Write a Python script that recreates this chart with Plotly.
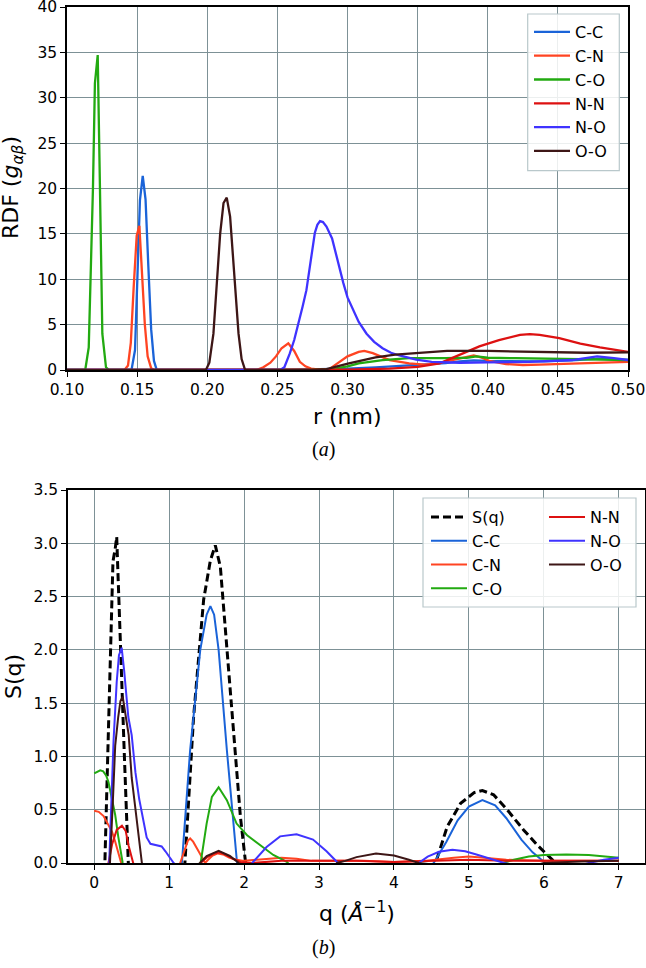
import plotly.graph_objects as go

# ---- panel (a): radial distribution functions ----
r_cc = [0.10, 0.146, 0.1485, 0.150, 0.152, 0.154, 0.156, 0.158, 0.160, 0.162, 0.164, 0.25, 0.28, 0.30, 0.32,
        0.34, 0.36, 0.37, 0.38, 0.39, 0.40, 0.42, 0.44, 0.46, 0.48, 0.50]
g_cc = [0, 0, 2.2, 10.5, 18.7, 21.4, 18.8, 11.4, 4.5, 1.0, 0, 0, 0.05, 0.15, 0.3,
        0.45, 0.65, 0.75, 0.95, 1.05, 1.0, 0.95, 0.95, 1.05, 1.25, 1.1]

r_cn = [0.10, 0.141, 0.1435, 0.1455, 0.1475, 0.1497, 0.1516, 0.1535, 0.1555, 0.1575, 0.160, 0.162,
        0.235, 0.240, 0.245, 0.249, 0.253, 0.2578, 0.262, 0.266, 0.270, 0.274, 0.280, 0.287, 0.294,
        0.300, 0.308, 0.312, 0.318, 0.325, 0.330, 0.344, 0.355, 0.365, 0.375, 0.385, 0.390, 0.395,
        0.401, 0.413, 0.425, 0.437, 0.450, 0.461, 0.480, 0.500]
g_cn = [0, 0, 0.5, 3, 9, 14.8, 15.9, 11, 5, 1.5, 0.2, 0,
        0, 0.3, 0.8, 1.5, 2.4, 2.94, 2.1, 0.9, 0.4, 0.15, 0.05, 0.1, 0.9,
        1.5, 2.0, 2.1, 1.85, 1.4, 1.1, 0.74, 0.6, 0.75, 1.1, 1.5, 1.6, 1.4,
        1.0, 0.66, 0.55, 0.6, 0.65, 0.73, 0.82, 0.9]

r_co = [0.10, 0.113, 0.1155, 0.1185, 0.1199, 0.1219, 0.1235, 0.1252, 0.1278, 0.130,
        0.270, 0.289, 0.300, 0.308, 0.325, 0.344, 0.370, 0.385, 0.392, 0.400, 0.420, 0.450, 0.480, 0.500]
g_co = [0, 0, 2.5, 20, 31.6, 34.7, 20, 4, 0.3, 0,
        0, 0.1, 0.4, 0.74, 1.1, 1.3, 1.3, 1.35, 1.5, 1.35, 1.3, 1.25, 1.2, 1.1]

r_nn = [0.10, 0.28, 0.30, 0.33, 0.35, 0.3657, 0.380, 0.394, 0.408, 0.423, 0.430, 0.437, 0.451,
        0.466, 0.480, 0.500]
g_nn = [0, 0, 0.05, 0.15, 0.35, 0.74, 1.65, 2.6, 3.3, 3.86, 3.95, 3.86, 3.5,
        2.9, 2.5, 2.0]

r_no = [0.10, 0.252, 0.255, 0.2588, 0.262, 0.265, 0.268, 0.2707, 0.274, 0.2767, 0.2785, 0.2804,
        0.2825, 0.285, 0.289, 0.293, 0.297, 0.300, 0.304, 0.308, 0.3136, 0.319, 0.325, 0.331, 0.337,
        0.349, 0.360, 0.380, 0.400, 0.430, 0.460, 0.478, 0.490, 0.500]
g_no = [0, 0, 0.3, 1.8, 3.3, 5, 7, 8.8, 12.2, 15.1, 16.0, 16.4,
        16.3, 15.8, 14.5, 12, 9.6, 8.0, 6.6, 5.3, 4.0, 3.1, 2.4, 1.9, 1.6,
        1.15, 0.9, 0.8, 0.85, 0.9, 1.1, 1.5, 1.3, 1.1]

r_oo = [0.10, 0.199, 0.2015, 0.2044, 0.2068, 0.2092, 0.2116, 0.2139, 0.2163, 0.2187, 0.2205, 0.2223,
        0.2245, 0.227, 0.275, 0.285, 0.301, 0.320, 0.334, 0.353, 0.371, 0.400, 0.430, 0.450, 0.470, 0.500]
g_oo = [0, 0, 0.8, 4, 9.5, 15, 18.4, 19.0, 16.9, 11.4, 7, 4,
        1.2, 0, 0, 0.1, 0.74, 1.4, 1.7, 1.9, 2.1, 2.1, 2.0, 1.95, 1.9, 1.95]

# ---- panel (b): structure factor and partials ----
q_s = [0.10, 0.143, 0.20, 0.25, 0.28, 0.30, 0.32, 0.35, 0.40, 0.455, 0.50, 1.15, 1.21, 1.326, 1.46,
       1.55, 1.616, 1.683, 1.77, 1.86, 1.95, 2.02, 2.10, 4.45, 4.556, 4.71, 4.89, 5.07, 5.18, 5.33,
       5.51, 5.73, 5.91, 6.04, 6.16, 6.25]
s_tot = [-1.1, 0, 1.5, 2.83, 2.95, 3.06, 2.65, 2.0, 1.05, 0, -0.8, -0.8, 0, 1.37, 2.47,
         2.84, 2.98, 2.78, 2.0, 1.22, 0.44, 0, -0.5, -0.3, 0, 0.34, 0.56, 0.66, 0.68, 0.64,
         0.5, 0.31, 0.17, 0.08, 0, -0.1]

q_cc = [1.05, 1.17, 1.28, 1.415, 1.50, 1.55, 1.60, 1.66, 1.77, 1.906, 2.0, 4.40, 4.53, 4.70, 4.85,
        5.00, 5.18, 5.35, 5.50, 5.70, 5.85, 6.02, 6.15]
s_cc = [-0.6, 0, 1.06, 2.0, 2.33, 2.41, 2.33, 2.0, 1.06, 0, -0.4, -0.08, 0, 0.2, 0.4,
        0.53, 0.59, 0.54, 0.42, 0.22, 0.1, 0, -0.05]

q_cn = [0.0, 0.06, 0.125, 0.18, 0.24, 0.28, 0.324, 0.36, 0.45, 1.05, 1.147, 1.20, 1.25, 1.28, 1.32,
        1.40, 1.48, 1.52, 1.58, 1.65, 1.72, 1.80, 1.90, 2.00, 2.20, 2.50, 2.70, 2.90, 3.20, 3.60,
        4.00, 4.40, 4.80, 5.00, 5.20, 5.50, 6.00, 6.50, 7.00]
s_cn = [0.49, 0.48, 0.44, 0.37, 0.29, 0.2, 0.09, 0, -0.1, -0.1, 0, 0.12, 0.21, 0.23, 0.2,
        0.1, 0, 0.03, 0.07, 0.09, 0.08, 0.05, 0.03, 0.02, 0.03, 0.05, 0.04, 0.02, 0.02, 0.02,
        0.01, 0.02, 0.05, 0.06, 0.05, 0.03, 0.02, 0.02, 0.02]

q_co = [0.0, 0.04, 0.08, 0.12, 0.16, 0.19, 0.24, 0.28, 0.32, 0.36, 0.38, 0.45, 1.35, 1.42, 1.50,
        1.57, 1.66, 1.77, 1.90, 2.04, 2.21, 2.39, 2.57, 2.65, 5.30, 5.45, 5.60, 5.80, 6.00, 6.30,
        6.60, 6.80, 7.00]
s_co = [0.84, 0.855, 0.87, 0.86, 0.82, 0.76, 0.59, 0.45, 0.25, 0.05, 0, -0.2, -0.2, 0, 0.37,
        0.62, 0.71, 0.59, 0.37, 0.26, 0.17, 0.075, 0.01, -0.05, -0.05, 0, 0.03, 0.06, 0.075, 0.08,
        0.075, 0.06, 0.05]

q_nn = [0.0, 0.19, 0.24, 0.30, 0.37, 0.42, 0.46, 0.52, 0.60, 1.35, 1.42, 1.50, 1.60, 1.68, 1.75,
        1.85, 1.95, 2.10, 2.50, 3.00, 3.50, 4.00, 4.50, 5.00, 5.50, 6.00, 6.50, 7.00]
s_nn = [-0.3, 0, 0.18, 0.31, 0.35, 0.3, 0.16, 0, -0.1, -0.05, 0, 0.05, 0.09, 0.1, 0.08,
        0.04, 0.01, 0.0, 0.02, 0.02, 0.02, 0.01, 0.02, 0.03, 0.02, 0.02, 0.02, 0.02]

q_no = [0.0, 0.20, 0.258, 0.30, 0.33, 0.366, 0.40, 0.455, 0.50, 0.55, 0.60, 0.65, 0.70, 0.75, 0.85,
        0.90, 0.95, 1.00, 1.06, 1.20, 2.00, 2.12, 2.30, 2.48, 2.70, 2.92, 3.10, 3.24, 3.30, 4.25,
        4.33, 4.45, 4.60, 4.78, 4.95, 5.10, 5.30, 5.47, 5.60, 6.50, 6.60, 6.80, 7.00]
s_no = [-0.5, 0, 1.15, 1.7, 1.95, 2.02, 1.8, 1.37, 1.2, 0.85, 0.6, 0.4, 0.24, 0.18, 0.16,
        0.155, 0.11, 0.06, 0, -0.1, -0.1, 0.01, 0.15, 0.25, 0.27, 0.22, 0.11, 0.01, -0.05, -0.05,
        0, 0.06, 0.105, 0.125, 0.11, 0.08, 0.035, 0, -0.02, -0.02, 0, 0.03, 0.05]

q_oo = [0.0, 0.21, 0.25, 0.28, 0.32, 0.35, 0.38, 0.42, 0.46, 0.50, 0.547, 0.60, 0.636, 0.70, 1.33,
        1.41, 1.50, 1.66, 1.81, 1.93, 2.00, 3.20, 3.24, 3.35, 3.50, 3.76, 4.00, 4.20, 4.33, 4.60,
        5.90, 6.00, 6.50, 7.00]
s_oo = [-0.4, 0, 0.6, 1.1, 1.37, 1.52, 1.56, 1.4, 1.2, 0.8, 0.53, 0.2, 0, -0.1, -0.05,
        0, 0.066, 0.115, 0.066, 0, -0.03, -0.03, 0, 0.02, 0.055, 0.09, 0.07, 0.03, 0, -0.02,
        -0.02, 0, 0.015, 0.02]

labels = ["C-C", "C-N", "C-O", "N-N", "N-O", "O-O"]
colors = ["#1a63d8", "#ff4422", "#22aa11", "#dd1111", "#3f33ff", "#3d1616"]

W, H = 646, 968
px = lambda x: x / W
py = lambda y: 1 - y / H

fig = go.Figure()

rdf = [(r_cc, g_cc), (r_cn, g_cn), (r_co, g_co), (r_nn, g_nn), (r_no, g_no), (r_oo, g_oo)]
for (x, y), name, c in zip(rdf, labels, colors):
    fig.add_trace(go.Scatter(x=x, y=y, name=name, mode="lines", line=dict(color=c, width=2.3),
                             xaxis="x", yaxis="y", legend="legend", legendgroup=name))

fig.add_trace(go.Scatter(x=q_s, y=s_tot, name="S(q)", mode="lines",
                         line=dict(color="black", width=3, dash="8px,4px"),
                         xaxis="x2", yaxis="y2", legend="legend2", legendgroup="S"))
sq = [(q_cc, s_cc), (q_cn, s_cn), (q_co, s_co), (q_nn, s_nn), (q_no, s_no), (q_oo, s_oo)]
for i, ((x, y), name, c) in enumerate(zip(sq, labels, colors)):
    fig.add_trace(go.Scatter(x=x, y=y, name=name, mode="lines", line=dict(color=c, width=2),
                             xaxis="x2", yaxis="y2", legend="legend2" if i < 3 else "legend3",
                             legendgroup="b" + name))

grid = "#7d9196"
tickfont = dict(family="DejaVu Sans", size=15.5, color="black")
ax = dict(showline=True, linecolor="black", linewidth=1.5, mirror=True, ticks="outside",
          ticklen=5, tickwidth=1.3, tickcolor="black", showgrid=True, gridcolor=grid,
          gridwidth=1.3, zeroline=False, tickfont=tickfont, automargin=False,
          ticklabeloverflow="allow")

leg = dict(xanchor="left", yanchor="top", bgcolor="rgba(0,0,0,0)", font=dict(size=16),
           tracegroupgap=0, traceorder="grouped", itemwidth=36)

fig.update_layout(
    width=W, height=H, autosize=False,
    margin=dict(l=0, r=0, t=0, b=0),
    paper_bgcolor="white", plot_bgcolor="white",
    font=dict(family="DejaVu Sans", color="black"),
    xaxis=dict(ax, domain=[px(67), px(628)], range=[0.10, 0.50], tickvals=[0.10, 0.15, 0.20, 0.25,
               0.30, 0.35, 0.40, 0.45, 0.50], tickformat=".2f", anchor="y"),
    yaxis=dict(ax, domain=[py(370), py(7)], range=[0, 40], dtick=5, anchor="x"),
    xaxis2=dict(ax, domain=[px(68), px(645)], range=[-0.35, 7.35], dtick=1, anchor="y2"),
    yaxis2=dict(ax, domain=[py(863), py(490)], range=[0, 3.5], dtick=0.5, tickformat=".1f",
                anchor="x2"),
    legend=dict(leg, x=px(529), y=py(15)),
    legend2=dict(leg, x=px(426), y=py(500)),
    legend3=dict(leg, x=px(544), y=py(500)),
    showlegend=True,
)

# legend frames
for x0, y0, x1, y1 in [(527.7, 14, 619.3, 170.7), (423, 498, 636, 607)]:
    fig.add_shape(type="rect", xref="paper", yref="paper", x0=px(x0), x1=px(x1), y0=py(y1), y1=py(y0),
                  line=dict(color="#b9c8cb", width=1.2), fillcolor="rgba(255,255,255,0.85)",
                  layer="above")

titles = [
    ("RDF (<i>g</i><sub><i>αβ</i></sub>)", 12, 188, -90, 22, "DejaVu Sans"),
    ("r (nm)", 347.5, 416.5, 0, 22, "DejaVu Sans"),
    ("(<i>a</i>)", 323, 449, 0, 20, "Liberation Serif"),
    ("S(q)", 13, 677, -90, 22, "DejaVu Sans"),
    ("q (<i>Å</i><sup>−1</sup>)", 356.5, 912, 0, 22, "DejaVu Sans"),
    ("(<i>b</i>)", 323.5, 947.5, 0, 20, "Liberation Serif"),
]
for text, x, y, ang, size, fam in titles:
    fig.add_annotation(text=text, x=px(x), y=py(y), xref="paper", yref="paper", showarrow=False,
                       xanchor="center", yanchor="middle", textangle=ang,
                       font=dict(size=size, family=fam, color="black"))

# the page body has a default 8px margin; drop it so the figure fills the window
fig.write_html("out.html", config={"displayModeBar": False},
               post_script="document.body.style.margin='0';")
